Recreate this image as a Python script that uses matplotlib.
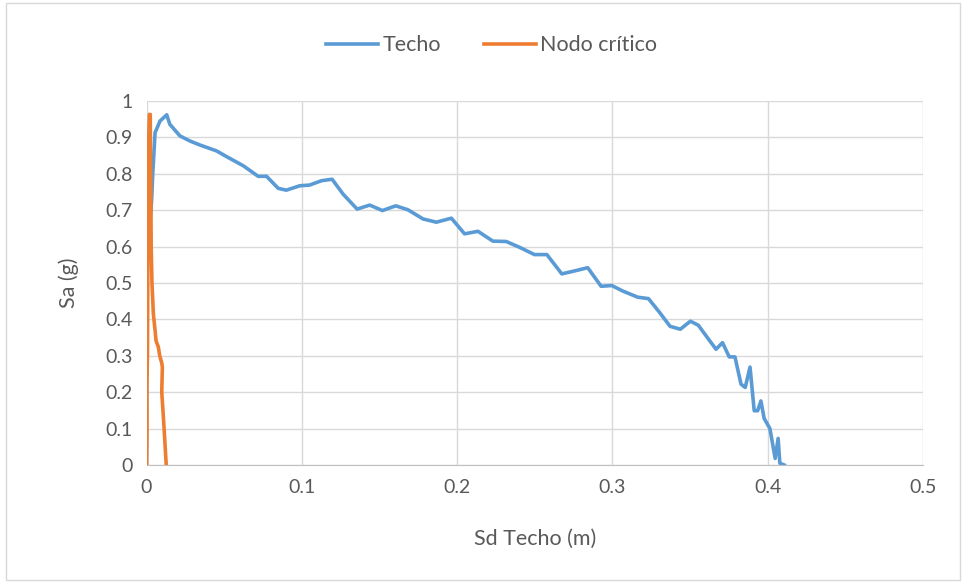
import matplotlib.pyplot as plt

# Techo curve (Sd in m, Sa in g)
sd_techo = [0, 0.0002, 0.0005, 0.0033, 0.004, 0.0055, 0.0087, 0.013, 0.015, 0.0215,
            0.028, 0.0344, 0.045, 0.0516, 0.0623, 0.0719, 0.0773, 0.0848, 0.090, 0.0987,
            0.105, 0.1127, 0.1195, 0.1266, 0.1356, 0.1437, 0.1519, 0.1605, 0.1684, 0.178,
            0.1866, 0.1963, 0.2048, 0.2134, 0.223, 0.2316, 0.2402, 0.2498, 0.2578, 0.2674,
            0.2745, 0.2841, 0.2927, 0.2996, 0.3066, 0.3163, 0.3232, 0.3302, 0.3371, 0.3437,
            0.3502, 0.3553, 0.3613, 0.3667, 0.3709, 0.3752, 0.3789, 0.3828, 0.3855, 0.3886,
            0.3913, 0.3935, 0.3956, 0.3977, 0.4014, 0.4048, 0.4067, 0.4078, 0.4106]
sa_techo = [0, 0.40, 0.55, 0.73, 0.80, 0.913, 0.945, 0.962, 0.936, 0.904,
            0.89, 0.879, 0.863, 0.847, 0.822, 0.793, 0.793, 0.760, 0.755, 0.767,
            0.769, 0.781, 0.785, 0.744, 0.703, 0.714, 0.699, 0.712, 0.701, 0.676,
            0.667, 0.678, 0.635, 0.642, 0.615, 0.614, 0.598, 0.578, 0.578, 0.525,
            0.532, 0.542, 0.491, 0.493, 0.478, 0.461, 0.457, 0.42, 0.381, 0.373,
            0.395, 0.384, 0.349, 0.318, 0.336, 0.297, 0.297, 0.222, 0.213, 0.269,
            0.149, 0.149, 0.176, 0.128, 0.10, 0.018, 0.073, 0.005, 0]

# Nodo critico curve
sd_nodo = [0, 0.0003, 0.0002, 0.0006, 0.0008, 0.0009, 0.0012, 0.0018, 0.0024, 0.0025,
           0.003, 0.0035, 0.0044, 0.0055, 0.0061, 0.0076, 0.0085, 0.0098, 0.0102, 0.0098,
           0.0107, 0.0116, 0.0124, 0.0127]
sa_nodo = [0, 0.1, 0.22, 0.3, 0.5, 0.7, 0.85, 0.963, 0.963, 0.9,
           0.6, 0.5, 0.415, 0.37, 0.342, 0.324, 0.30, 0.28, 0.269, 0.2,
           0.142, 0.08, 0.02, 0]

plt.rcParams['font.family'] = ['Lato', 'DejaVu Sans']
txt = '#595959'
grid = '#d9d9d9'

fig = plt.figure(figsize=(9.64, 5.83), dpi=100)
fig.patches.append(plt.Rectangle((0.006, 0.006), 0.99, 0.988, transform=fig.transFigure,
                                 fill=False, edgecolor=grid, linewidth=1))
ax = fig.add_axes([0.152, 0.2024, 0.8055, 0.6244])

ax.plot(sd_techo, sa_techo, color='#5B9BD5', linewidth=2.6, label='Techo')
ax.plot(sd_nodo, sa_nodo, color='#ED7D31', linewidth=2.6, label='Nodo crítico')

ax.set_xlim(0, 0.5)
ax.set_ylim(0, 1)
ax.set_xticks([0, 0.1, 0.2, 0.3, 0.4, 0.5])
ax.set_xticklabels(['0', '0.1', '0.2', '0.3', '0.4', '0.5'])
ax.set_yticks([i / 10 for i in range(11)])
ax.set_yticklabels(['0', '0.1', '0.2', '0.3', '0.4', '0.5', '0.6', '0.7', '0.8', '0.9', '1'])
ax.grid(True, color=grid, linewidth=1)
ax.set_axisbelow(True)
for s in ['top', 'right', 'left']:
    ax.spines[s].set_visible(False)
ax.spines['bottom'].set_color('#bfbfbf')
ax.tick_params(length=0, labelsize=14, colors=txt, pad=10)

ax.set_xlabel('Sd Techo (m)', fontsize=15.5, color=txt, labelpad=24)
ax.set_ylabel('Sa (g)', fontsize=15.5, color=txt, labelpad=19)

fig.legend(loc='center', bbox_to_anchor=(0.51, 0.922), ncol=2, frameon=False,
           fontsize=15.5, labelcolor=txt, handlelength=2.4, handletextpad=0.2,
           columnspacing=2.0)

fig.savefig('out.png', dpi=100)
